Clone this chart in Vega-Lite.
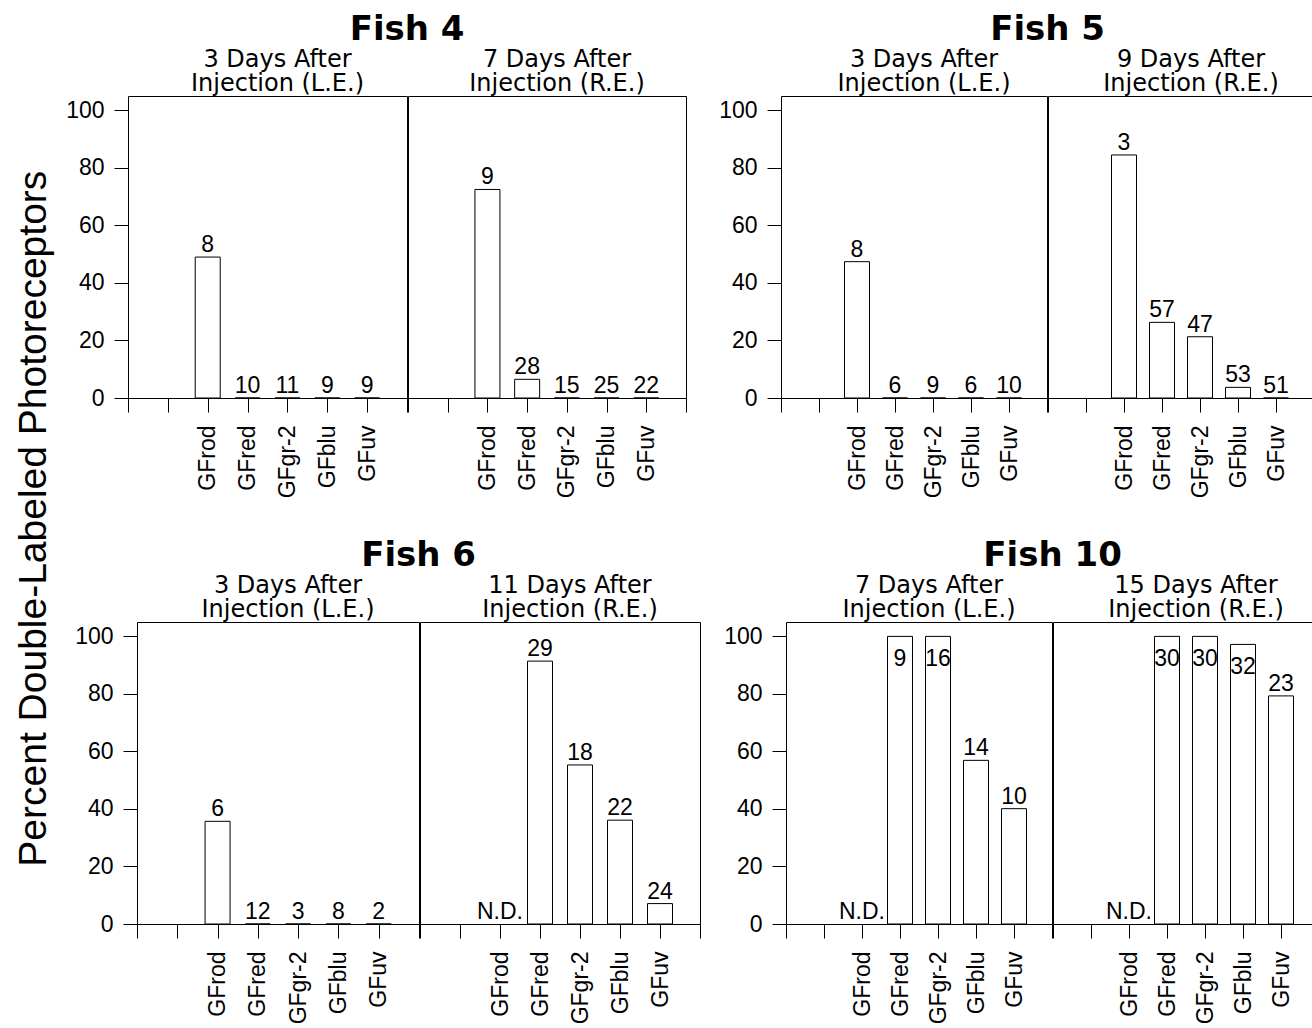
{
  "$schema": "https://vega.github.io/schema/vega-lite/v6.json",
  "padding": {"left": 15, "top": 13, "right": 0, "bottom": 0},
  "background": "white",
  "datasets": {
    "d": [
      {"fish": "Fish 4", "eye": "L.E.", "cell": "GFrod", "pct": 49, "n": "8"},
      {"fish": "Fish 4", "eye": "L.E.", "cell": "GFred", "pct": 0, "n": "10"},
      {"fish": "Fish 4", "eye": "L.E.", "cell": "GFgr-2", "pct": 0, "n": "11"},
      {"fish": "Fish 4", "eye": "L.E.", "cell": "GFblu", "pct": 0, "n": "9"},
      {"fish": "Fish 4", "eye": "L.E.", "cell": "GFuv", "pct": 0, "n": "9"},
      {"fish": "Fish 4", "eye": "R.E.", "cell": "GFrod", "pct": 72.5, "n": "9"},
      {"fish": "Fish 4", "eye": "R.E.", "cell": "GFred", "pct": 6.5, "n": "28"},
      {"fish": "Fish 4", "eye": "R.E.", "cell": "GFgr-2", "pct": 0, "n": "15"},
      {"fish": "Fish 4", "eye": "R.E.", "cell": "GFblu", "pct": 0, "n": "25"},
      {"fish": "Fish 4", "eye": "R.E.", "cell": "GFuv", "pct": 0, "n": "22"},
      {"fish": "Fish 5", "eye": "L.E.", "cell": "GFrod", "pct": 47.4, "n": "8"},
      {"fish": "Fish 5", "eye": "L.E.", "cell": "GFred", "pct": 0, "n": "6"},
      {"fish": "Fish 5", "eye": "L.E.", "cell": "GFgr-2", "pct": 0, "n": "9"},
      {"fish": "Fish 5", "eye": "L.E.", "cell": "GFblu", "pct": 0, "n": "6"},
      {"fish": "Fish 5", "eye": "L.E.", "cell": "GFuv", "pct": 0, "n": "10"},
      {"fish": "Fish 5", "eye": "R.E.", "cell": "GFrod", "pct": 84.5, "n": "3"},
      {"fish": "Fish 5", "eye": "R.E.", "cell": "GFred", "pct": 26.3, "n": "57"},
      {"fish": "Fish 5", "eye": "R.E.", "cell": "GFgr-2", "pct": 21.3, "n": "47"},
      {"fish": "Fish 5", "eye": "R.E.", "cell": "GFblu", "pct": 3.7, "n": "53"},
      {"fish": "Fish 5", "eye": "R.E.", "cell": "GFuv", "pct": 0, "n": "51"},
      {"fish": "Fish 6", "eye": "L.E.", "cell": "GFrod", "pct": 35.7, "n": "6"},
      {"fish": "Fish 6", "eye": "L.E.", "cell": "GFred", "pct": 0, "n": "12"},
      {"fish": "Fish 6", "eye": "L.E.", "cell": "GFgr-2", "pct": 0, "n": "3"},
      {"fish": "Fish 6", "eye": "L.E.", "cell": "GFblu", "pct": 0, "n": "8"},
      {"fish": "Fish 6", "eye": "L.E.", "cell": "GFuv", "pct": 0, "n": "2"},
      {"fish": "Fish 6", "eye": "R.E.", "cell": "GFrod", "pct": null, "n": "N.D."},
      {"fish": "Fish 6", "eye": "R.E.", "cell": "GFred", "pct": 91.4, "n": "29"},
      {"fish": "Fish 6", "eye": "R.E.", "cell": "GFgr-2", "pct": 55.3, "n": "18"},
      {"fish": "Fish 6", "eye": "R.E.", "cell": "GFblu", "pct": 36.1, "n": "22"},
      {"fish": "Fish 6", "eye": "R.E.", "cell": "GFuv", "pct": 7.1, "n": "24"},
      {"fish": "Fish 10", "eye": "L.E.", "cell": "GFrod", "pct": null, "n": "N.D."},
      {"fish": "Fish 10", "eye": "L.E.", "cell": "GFred", "pct": 100, "n": "9"},
      {"fish": "Fish 10", "eye": "L.E.", "cell": "GFgr-2", "pct": 100, "n": "16"},
      {"fish": "Fish 10", "eye": "L.E.", "cell": "GFblu", "pct": 56.9, "n": "14"},
      {"fish": "Fish 10", "eye": "L.E.", "cell": "GFuv", "pct": 40.1, "n": "10"},
      {"fish": "Fish 10", "eye": "R.E.", "cell": "GFrod", "pct": null, "n": "N.D."},
      {"fish": "Fish 10", "eye": "R.E.", "cell": "GFred", "pct": 100, "n": "30"},
      {"fish": "Fish 10", "eye": "R.E.", "cell": "GFgr-2", "pct": 100, "n": "30"},
      {"fish": "Fish 10", "eye": "R.E.", "cell": "GFblu", "pct": 97.2, "n": "32"},
      {"fish": "Fish 10", "eye": "R.E.", "cell": "GFuv", "pct": 79.3, "n": "23"}
    ]
  },
  "data": {"name": "d"},
  "title": {"text": "Percent Double-Labeled Photoreceptors", "orient": "left", "fontSize": 39, "fontWeight": "normal", "anchor": "middle", "offset": 9.9, "font": "Liberation Sans"},
  "spacing": 40,
  "vconcat": [
    {
      "spacing": 0,
      "hconcat": [
        {"width": 1, "height": 302, "data": {"values": []}, "mark": {"type": "point"}, "view": {"stroke": null}},
        {
          "spacing": 31,
          "hconcat": [
            {
              "title": {"text": "Fish 4", "fontSize": 34, "fontWeight": "bold", "offset": 0, "dx": 31, "font": "DejaVu Sans"},
              "spacing": -1,
              "hconcat": [
                {
                  "width": 279, "height": 302,
                  "title": {"text": ["3 Days After", "Injection (L.E.)"], "dx": 10},
                  "transform": [{"filter": "datum.fish === 'Fish 4' && datum.eye === 'L.E.'"}],
                  "encoding": {
                    "x": {"field": "cell", "type": "nominal", "scale": {"type": "point", "domain": [" ", "  ", "GFrod", "GFred", "GFgr-2", "GFblu", "GFuv", "   "], "padding": 0}, "axis": {"title": null, "labelFontSize": {"condition": {"test": "trim(datum.value) === ''", "value": 0}, "value": 23}}},
                    "y": {"field": "pct", "type": "quantitative", "scale": {"domain": [0, 105], "nice": false}, "axis": {"title": null, "values": [0, 20, 40, 60, 80, 100]}}
                  },
                  "layer": [
                    {"mark": {"type": "bar", "size": 25, "fill": "white", "stroke": "black", "strokeWidth": 1}},
                    {"transform": [{"filter": "datum.n !== 'N.D.' && datum.pct < 95"}], "mark": {"type": "text", "baseline": "alphabetic", "dy": -5, "fontSize": 23}, "encoding": {"text": {"field": "n"}}},
                    {"transform": [{"filter": "datum.n !== 'N.D.' && datum.pct >= 95"}], "mark": {"type": "text", "baseline": "alphabetic", "dy": 30, "fontSize": 23}, "encoding": {"text": {"field": "n"}}}
                  ]
                },
                {
                  "width": 278, "height": 302,
                  "title": {"text": ["7 Days After", "Injection (R.E.)"], "dx": 10},
                  "transform": [{"filter": "datum.fish === 'Fish 4' && datum.eye === 'R.E.'"}],
                  "encoding": {
                    "x": {"field": "cell", "type": "nominal", "scale": {"type": "point", "domain": [" ", "  ", "GFrod", "GFred", "GFgr-2", "GFblu", "GFuv", "   "], "padding": 0}, "axis": {"title": null, "labelFontSize": {"condition": {"test": "trim(datum.value) === ''", "value": 0}, "value": 23}}},
                    "y": {"field": "pct", "type": "quantitative", "scale": {"domain": [0, 105], "nice": false}, "axis": null}
                  },
                  "layer": [
                    {"mark": {"type": "bar", "size": 25, "fill": "white", "stroke": "black", "strokeWidth": 1}},
                    {"transform": [{"filter": "datum.n !== 'N.D.' && datum.pct < 95"}], "mark": {"type": "text", "baseline": "alphabetic", "dy": -5, "fontSize": 23}, "encoding": {"text": {"field": "n"}}},
                    {"transform": [{"filter": "datum.n !== 'N.D.' && datum.pct >= 95"}], "mark": {"type": "text", "baseline": "alphabetic", "dy": 30, "fontSize": 23}, "encoding": {"text": {"field": "n"}}}
                  ]
                }
              ]
            },
            {
              "title": {"text": "Fish 5", "fontSize": 34, "fontWeight": "bold", "offset": 0, "dx": 31, "font": "DejaVu Sans"},
              "spacing": -1,
              "hconcat": [
                {
                  "width": 266, "height": 302,
                  "title": {"text": ["3 Days After", "Injection (L.E.)"], "dx": 10},
                  "transform": [{"filter": "datum.fish === 'Fish 5' && datum.eye === 'L.E.'"}],
                  "encoding": {
                    "x": {"field": "cell", "type": "nominal", "scale": {"type": "point", "domain": [" ", "  ", "GFrod", "GFred", "GFgr-2", "GFblu", "GFuv", "   "], "padding": 0}, "axis": {"title": null, "labelFontSize": {"condition": {"test": "trim(datum.value) === ''", "value": 0}, "value": 23}}},
                    "y": {"field": "pct", "type": "quantitative", "scale": {"domain": [0, 105], "nice": false}, "axis": {"title": null, "values": [0, 20, 40, 60, 80, 100]}}
                  },
                  "layer": [
                    {"mark": {"type": "bar", "size": 25, "fill": "white", "stroke": "black", "strokeWidth": 1}},
                    {"transform": [{"filter": "datum.n !== 'N.D.' && datum.pct < 95"}], "mark": {"type": "text", "baseline": "alphabetic", "dy": -5, "fontSize": 23}, "encoding": {"text": {"field": "n"}}},
                    {"transform": [{"filter": "datum.n !== 'N.D.' && datum.pct >= 95"}], "mark": {"type": "text", "baseline": "alphabetic", "dy": 30, "fontSize": 23}, "encoding": {"text": {"field": "n"}}}
                  ]
                },
                {
                  "width": 266, "height": 302,
                  "title": {"text": ["9 Days After", "Injection (R.E.)"], "dx": 10},
                  "transform": [{"filter": "datum.fish === 'Fish 5' && datum.eye === 'R.E.'"}],
                  "encoding": {
                    "x": {"field": "cell", "type": "nominal", "scale": {"type": "point", "domain": [" ", "  ", "GFrod", "GFred", "GFgr-2", "GFblu", "GFuv", "   "], "padding": 0}, "axis": {"title": null, "labelFontSize": {"condition": {"test": "trim(datum.value) === ''", "value": 0}, "value": 23}}},
                    "y": {"field": "pct", "type": "quantitative", "scale": {"domain": [0, 105], "nice": false}, "axis": null}
                  },
                  "layer": [
                    {"mark": {"type": "bar", "size": 25, "fill": "white", "stroke": "black", "strokeWidth": 1}},
                    {"transform": [{"filter": "datum.n !== 'N.D.' && datum.pct < 95"}], "mark": {"type": "text", "baseline": "alphabetic", "dy": -5, "fontSize": 23}, "encoding": {"text": {"field": "n"}}},
                    {"transform": [{"filter": "datum.n !== 'N.D.' && datum.pct >= 95"}], "mark": {"type": "text", "baseline": "alphabetic", "dy": 30, "fontSize": 23}, "encoding": {"text": {"field": "n"}}}
                  ]
                }
              ]
            }
          ]
        }
      ]
    },
    {
      "spacing": 0,
      "hconcat": [
        {"width": 9.5, "height": 302, "data": {"values": []}, "mark": {"type": "point"}, "view": {"stroke": null}},
        {
          "spacing": 22,
          "hconcat": [
            {
              "title": {"text": "Fish 6", "fontSize": 34, "fontWeight": "bold", "offset": 0, "dx": 31, "font": "DejaVu Sans"},
              "spacing": -1,
              "hconcat": [
                {
                  "width": 282, "height": 302,
                  "title": {"text": ["3 Days After", "Injection (L.E.)"], "dx": 10},
                  "transform": [{"filter": "datum.fish === 'Fish 6' && datum.eye === 'L.E.'"}],
                  "encoding": {
                    "x": {"field": "cell", "type": "nominal", "scale": {"type": "point", "domain": [" ", "  ", "GFrod", "GFred", "GFgr-2", "GFblu", "GFuv", "   "], "padding": 0}, "axis": {"title": null, "labelFontSize": {"condition": {"test": "trim(datum.value) === ''", "value": 0}, "value": 23}}},
                    "y": {"field": "pct", "type": "quantitative", "scale": {"domain": [0, 105], "nice": false}, "axis": {"title": null, "values": [0, 20, 40, 60, 80, 100]}}
                  },
                  "layer": [
                    {"mark": {"type": "bar", "size": 25, "fill": "white", "stroke": "black", "strokeWidth": 1}},
                    {"transform": [{"filter": "datum.n !== 'N.D.' && datum.pct < 95"}], "mark": {"type": "text", "baseline": "alphabetic", "dy": -5, "fontSize": 23}, "encoding": {"text": {"field": "n"}}},
                    {"transform": [{"filter": "datum.n !== 'N.D.' && datum.pct >= 95"}], "mark": {"type": "text", "baseline": "alphabetic", "dy": 30, "fontSize": 23}, "encoding": {"text": {"field": "n"}}}
                  ]
                },
                {
                  "width": 280, "height": 302,
                  "title": {"text": ["11 Days After", "Injection (R.E.)"], "dx": 10},
                  "transform": [{"filter": "datum.fish === 'Fish 6' && datum.eye === 'R.E.'"}],
                  "encoding": {
                    "x": {"field": "cell", "type": "nominal", "scale": {"type": "point", "domain": [" ", "  ", "GFrod", "GFred", "GFgr-2", "GFblu", "GFuv", "   "], "padding": 0}, "axis": {"title": null, "labelFontSize": {"condition": {"test": "trim(datum.value) === ''", "value": 0}, "value": 23}}},
                    "y": {"field": "pct", "type": "quantitative", "scale": {"domain": [0, 105], "nice": false}, "axis": null}
                  },
                  "layer": [
                    {"mark": {"type": "bar", "size": 25, "fill": "white", "stroke": "black", "strokeWidth": 1}},
                    {"transform": [{"filter": "datum.n !== 'N.D.' && datum.pct < 95"}], "mark": {"type": "text", "baseline": "alphabetic", "dy": -5, "fontSize": 23}, "encoding": {"text": {"field": "n"}}},
                    {"transform": [{"filter": "datum.n !== 'N.D.' && datum.pct >= 95"}], "mark": {"type": "text", "baseline": "alphabetic", "dy": 30, "fontSize": 23}, "encoding": {"text": {"field": "n"}}},
                    {"transform": [{"filter": "datum.n === 'N.D.'"}], "mark": {"type": "text", "baseline": "alphabetic", "dy": -5, "fontSize": 23, "invalid": "show"}, "encoding": {"y": {"datum": 0, "type": "quantitative", "axis": null}, "text": {"field": "n"}}}
                  ]
                }
              ]
            },
            {
              "title": {"text": "Fish 10", "fontSize": 34, "fontWeight": "bold", "offset": 0, "dx": 31, "font": "DejaVu Sans"},
              "spacing": -1,
              "hconcat": [
                {
                  "width": 266, "height": 302,
                  "title": {"text": ["7 Days After", "Injection (L.E.)"], "dx": 10},
                  "transform": [{"filter": "datum.fish === 'Fish 10' && datum.eye === 'L.E.'"}],
                  "encoding": {
                    "x": {"field": "cell", "type": "nominal", "scale": {"type": "point", "domain": [" ", "  ", "GFrod", "GFred", "GFgr-2", "GFblu", "GFuv", "   "], "padding": 0}, "axis": {"title": null, "labelFontSize": {"condition": {"test": "trim(datum.value) === ''", "value": 0}, "value": 23}}},
                    "y": {"field": "pct", "type": "quantitative", "scale": {"domain": [0, 105], "nice": false}, "axis": {"title": null, "values": [0, 20, 40, 60, 80, 100]}}
                  },
                  "layer": [
                    {"mark": {"type": "bar", "size": 25, "fill": "white", "stroke": "black", "strokeWidth": 1}},
                    {"transform": [{"filter": "datum.n !== 'N.D.' && datum.pct < 95"}], "mark": {"type": "text", "baseline": "alphabetic", "dy": -5, "fontSize": 23}, "encoding": {"text": {"field": "n"}}},
                    {"transform": [{"filter": "datum.n !== 'N.D.' && datum.pct >= 95"}], "mark": {"type": "text", "baseline": "alphabetic", "dy": 30, "fontSize": 23}, "encoding": {"text": {"field": "n"}}},
                    {"transform": [{"filter": "datum.n === 'N.D.'"}], "mark": {"type": "text", "baseline": "alphabetic", "dy": -5, "fontSize": 23, "invalid": "show"}, "encoding": {"y": {"datum": 0, "type": "quantitative", "axis": {"title": null, "values": [0, 20, 40, 60, 80, 100]}}, "text": {"field": "n"}}}
                  ]
                },
                {
                  "width": 266, "height": 302,
                  "title": {"text": ["15 Days After", "Injection (R.E.)"], "dx": 10},
                  "transform": [{"filter": "datum.fish === 'Fish 10' && datum.eye === 'R.E.'"}],
                  "encoding": {
                    "x": {"field": "cell", "type": "nominal", "scale": {"type": "point", "domain": [" ", "  ", "GFrod", "GFred", "GFgr-2", "GFblu", "GFuv", "   "], "padding": 0}, "axis": {"title": null, "labelFontSize": {"condition": {"test": "trim(datum.value) === ''", "value": 0}, "value": 23}}},
                    "y": {"field": "pct", "type": "quantitative", "scale": {"domain": [0, 105], "nice": false}, "axis": null}
                  },
                  "layer": [
                    {"mark": {"type": "bar", "size": 25, "fill": "white", "stroke": "black", "strokeWidth": 1}},
                    {"transform": [{"filter": "datum.n !== 'N.D.' && datum.pct < 95"}], "mark": {"type": "text", "baseline": "alphabetic", "dy": -5, "fontSize": 23}, "encoding": {"text": {"field": "n"}}},
                    {"transform": [{"filter": "datum.n !== 'N.D.' && datum.pct >= 95"}], "mark": {"type": "text", "baseline": "alphabetic", "dy": 30, "fontSize": 23}, "encoding": {"text": {"field": "n"}}},
                    {"transform": [{"filter": "datum.n === 'N.D.'"}], "mark": {"type": "text", "baseline": "alphabetic", "dy": -5, "fontSize": 23, "invalid": "show"}, "encoding": {"y": {"datum": 0, "type": "quantitative", "axis": null}, "text": {"field": "n"}}}
                  ]
                }
              ]
            }
          ]
        }
      ]
    }
  ],
  "config": {
    "font": "Liberation Sans",
    "view": {"stroke": "black", "strokeWidth": 1},
    "mark": {"color": "black"},
    "text": {"color": "black", "font": "Liberation Sans"},
    "axis": {"grid": false, "domainColor": "black", "tickColor": "black", "labelColor": "black", "labelFontSize": 23, "labelFont": "Liberation Sans"},
    "axisX": {"tickSize": 14, "labelAngle": -90, "labelPadding": 13},
    "axisY": {"tickSize": 14, "labelPadding": 10, "domain": false},
    "title": {"fontSize": 24, "fontWeight": "normal", "color": "black", "lineHeight": 24, "offset": 0.5, "anchor": "middle", "font": "DejaVu Sans"}
  }
}
